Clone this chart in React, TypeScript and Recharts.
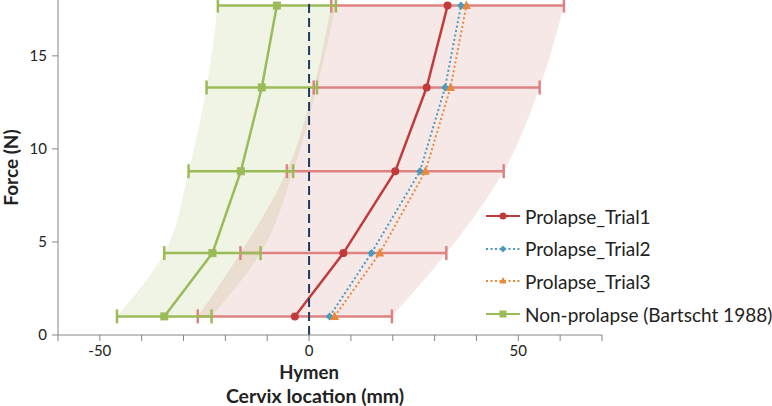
import React from 'react';
import {
  ComposedChart, Area, Line, XAxis, YAxis, ErrorBar, ReferenceLine, Label, Legend,
} from 'recharts';

// force levels (N) and cervix location (mm)
const FORCE = [1.0, 4.4, 8.8, 13.3, 17.7];
const TRIAL1 = [-3.4, 8.2, 20.6, 28.1, 33.1];
const TRIAL1_SD = [23.2, 24.6, 25.9, 27.0, 27.8];
const TRIAL2 = [4.9, 14.9, 26.5, 32.5, 36.3];
const TRIAL3 = [6.1, 16.9, 27.8, 33.8, 37.6];
const NON_PROLAPSE = [-34.6, -23.1, -16.3, -11.3, -7.7];
const NON_PROLAPSE_SD = [11.3, 11.5, 12.5, 13.2, 14.1];

const X_TICKS = [-60, -50, -40, -30, -20, -10, 0, 10, 20, 30, 40, 50, 60, 70];
const X_LABELS = [-50, 0, 50];
const Y_TICKS = [0, 5, 10, 15];
const HYMEN = 'Hymen';

const FONT = 'Lato, "Open Sans", sans-serif';
const AXIS = '#868686';
const RED = '#C23B3B';
const RED_BAR = '#DE8282';
const BLUE = '#4A9BBF';
const ORANGE = '#E8883A';
const GREEN = '#9BBB59';

const data = FORCE.map((f, i) => ({
  force: f,
  t1: TRIAL1[i],
  t1Err: TRIAL1_SD[i],
  t1Band: [TRIAL1[i] - TRIAL1_SD[i], TRIAL1[i] + TRIAL1_SD[i]],
  t2: TRIAL2[i],
  t3: TRIAL3[i],
  np: NON_PROLAPSE[i],
  npErr: NON_PROLAPSE_SD[i],
  npBand: [NON_PROLAPSE[i] - NON_PROLAPSE_SD[i], NON_PROLAPSE[i] + NON_PROLAPSE_SD[i]],
}));

type Shape = 'circle' | 'diamond' | 'triangle' | 'square';

const marker = (shape: Shape, color: string, cx: number, cy: number, s = 4) => {
  if (shape === 'circle') return <circle cx={cx} cy={cy} r={s} fill={color} />;
  if (shape === 'diamond')
    return <path d={`M${cx},${cy - s} L${cx + s},${cy} L${cx},${cy + s} L${cx - s},${cy} Z`} fill={color} />;
  if (shape === 'triangle')
    return <path d={`M${cx},${cy - s - 0.5} L${cx + s},${cy + s - 1} L${cx - s},${cy + s - 1} Z`} fill={color} />;
  return <rect x={cx - s} y={cy - s} width={s * 2} height={s * 2} fill={color} />;
};

const dot = (shape: Shape, color: string, s?: number) => (props: any) => {
  const { cx, cy, index } = props;
  if (cx == null || cy == null) return <g key={index} />;
  return <g key={index}>{marker(shape, color, cx, cy, s)}</g>;
};

const SERIES = [
  { key: 't1', name: 'Prolapse_Trial1', color: RED, shape: 'circle' as Shape, dash: undefined },
  { key: 't2', name: 'Prolapse_Trial2', color: BLUE, shape: 'diamond' as Shape, dash: '2 2.5' },
  { key: 't3', name: 'Prolapse_Trial3', color: ORANGE, shape: 'triangle' as Shape, dash: '2 2.5' },
  { key: 'np', name: 'Non-prolapse (Bartscht 1988)', color: GREEN, shape: 'square' as Shape, dash: undefined },
];

const XTick = (props: any) => {
  const { x, y, payload } = props;
  if (!X_LABELS.includes(payload.value)) return <g />;
  return (
    <g>
      <text x={x} y={y + 13} textAnchor="middle" fontSize={15} fill="#222" fontFamily={FONT}>
        {payload.value}
      </text>
      {payload.value === 0 && (
        <text x={x} y={y + 36} textAnchor="middle" fontSize={18.5} fontWeight="bold" fill="#222" fontFamily={FONT}>
          {HYMEN}
        </text>
      )}
    </g>
  );
};

const renderLegend = () => (
  <div style={{ fontFamily: FONT, fontSize: 19, color: '#222' }}>
    {SERIES.map((s) => (
      <div key={s.key} style={{ display: 'flex', alignItems: 'center', height: 32.6 }}>
        <svg width={34} height={12} style={{ marginRight: 5 }}>
          <line x1={0} y1={6} x2={34} y2={6} stroke={s.color} strokeWidth={2} strokeDasharray={s.dash} />
          {marker(s.shape, s.color, 17, 6, 3.5)}
        </svg>
        <span style={{ whiteSpace: 'nowrap' }}>{s.name}</span>
      </div>
    ))}
  </div>
);

export default function App() {
  return (
    <div style={{ position: 'absolute', left: 0, top: 0, background: '#fff' }}>
      <ComposedChart
        width={772}
        height={406}
        data={data}
        layout="vertical"
        margin={{ top: 0, right: 170, bottom: 0, left: 0 }}
      >
        <XAxis
          type="number"
          domain={[-60, 70]}
          ticks={X_TICKS}
          interval={0}
          height={71}
          stroke={AXIS}
          tickSize={6}
          tick={<XTick />}
        >
          <Label
            value="Cervix location (mm)"
            position="insideBottom"
            offset={3}
            dx={-15}
            style={{ fontFamily: FONT, fontSize: 19.5, fontWeight: 'bold', fill: '#222' }}
          />
        </XAxis>
        <YAxis
          type="number"
          dataKey="force"
          domain={[0, 18]}
          ticks={Y_TICKS}
          reversed
          width={58}
          stroke={AXIS}
          tickSize={6}
          tickMargin={5}
          tick={{ fontFamily: FONT, fontSize: 15, fill: '#222' }}
        >
          <Label
            value="Force (N)"
            angle={-90}
            position="center"
            dx={-18}
            style={{ fontFamily: FONT, fontSize: 19, fontWeight: 'bold', fill: '#222' }}
          />
        </YAxis>
        <Area
          dataKey="npBand"
          type="monotone"
          stroke="none"
          fill={GREEN}
          fillOpacity={0.16}
          isAnimationActive={false}
          legendType="none"
        />
        <Area
          dataKey="t1Band"
          type="monotone"
          stroke="none"
          fill="#C0504D"
          fillOpacity={0.13}
          isAnimationActive={false}
          legendType="none"
        />
        <Line
          dataKey="t1"
          stroke={RED}
          strokeWidth={2.5}
          dot={dot('circle', RED, 4)}
          isAnimationActive={false}
        >
          <ErrorBar dataKey="t1Err" direction="x" stroke={RED_BAR} strokeWidth={2.5} width={7} />
        </Line>
        <Line
          dataKey="t2"
          stroke={BLUE}
          strokeWidth={2}
          strokeDasharray="2 2.5"
          dot={dot('diamond', BLUE, 4)}
          isAnimationActive={false}
        />
        <Line
          dataKey="t3"
          stroke={ORANGE}
          strokeWidth={2}
          strokeDasharray="2 2.5"
          dot={dot('triangle', ORANGE, 4.5)}
          isAnimationActive={false}
        />
        <Line
          dataKey="np"
          stroke={GREEN}
          strokeWidth={2.5}
          dot={dot('square', GREEN, 4)}
          isAnimationActive={false}
        >
          <ErrorBar dataKey="npErr" direction="x" stroke={GREEN} strokeWidth={2.5} width={7} />
        </Line>
        <ReferenceLine x={0} stroke="#1F3864" strokeWidth={2} strokeDasharray="9 5" />
        <Legend
          layout="horizontal"
          align="center"
          verticalAlign="middle"
          content={renderLegend}
          wrapperStyle={{ left: 486, top: 200, width: 290, height: 131 }}
        />
      </ComposedChart>
    </div>
  );
}
